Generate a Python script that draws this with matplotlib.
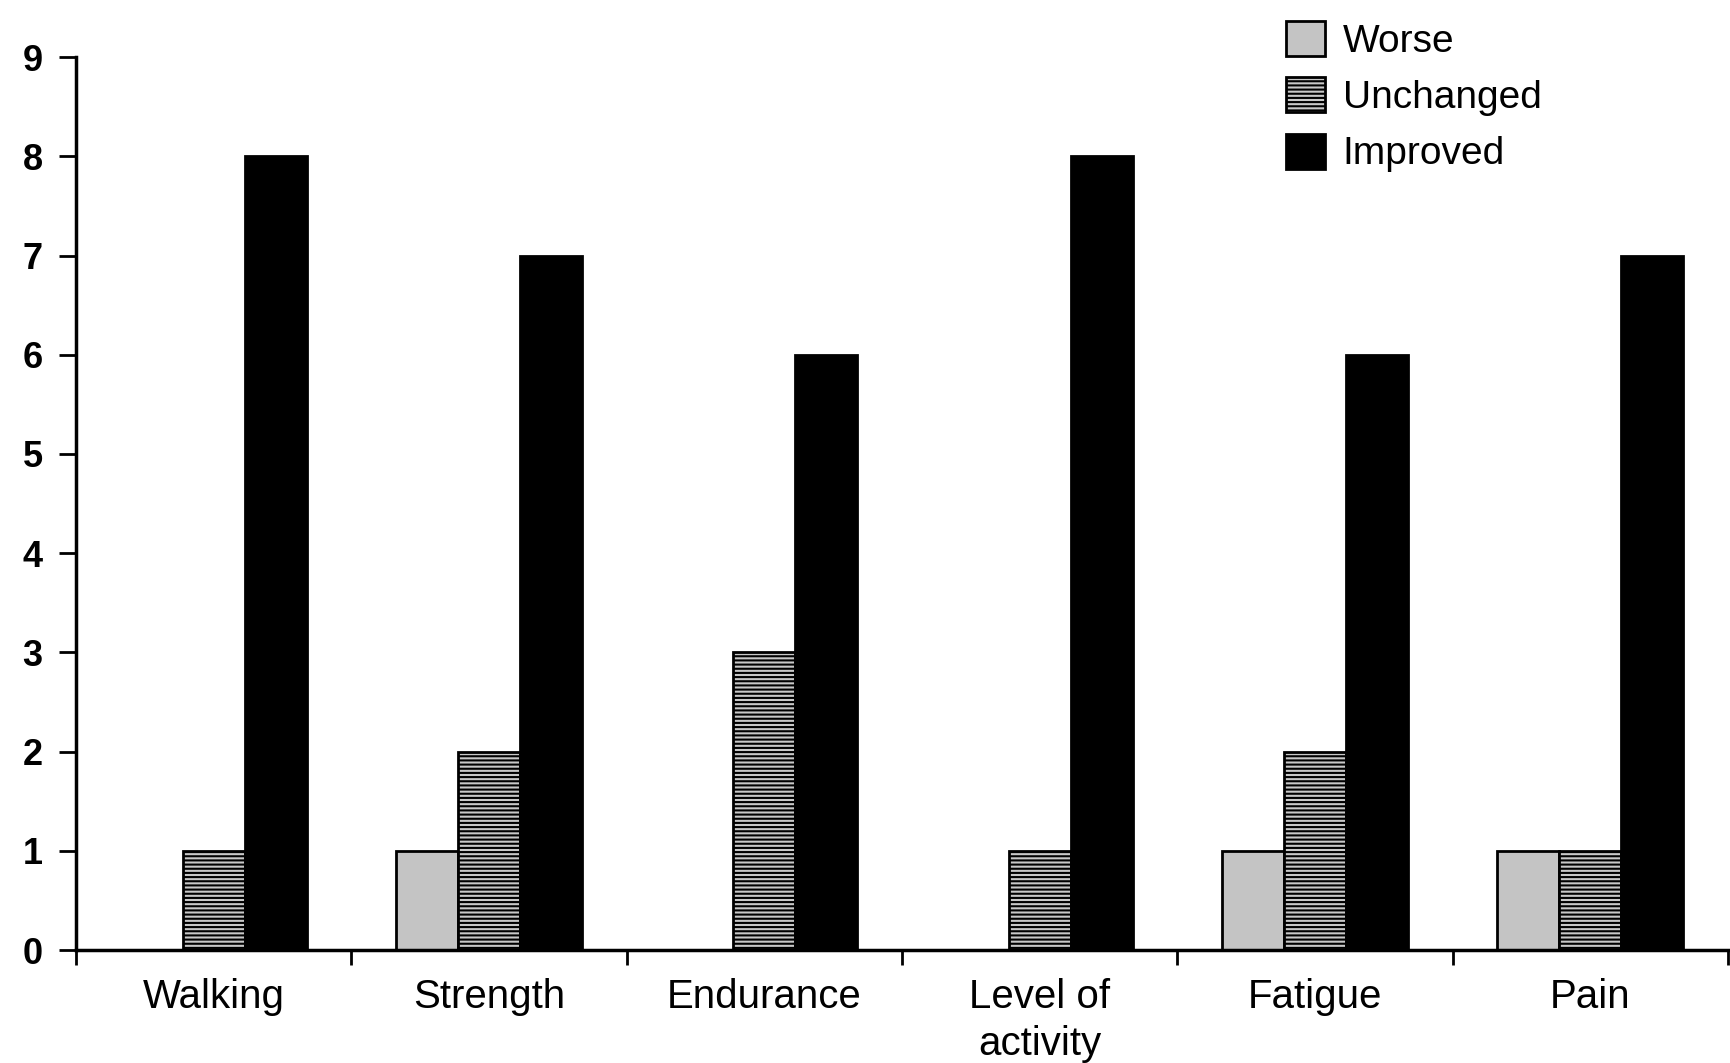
import matplotlib
matplotlib.use("Agg")
import matplotlib.pyplot as plt
import numpy as np

plt.rcParams['font.family'] = ['Liberation Sans', 'DejaVu Sans']
plt.rcParams['hatch.linewidth'] = 1.5

categories = ["Walking", "Strength", "Endurance", "Level of\nactivity", "Fatigue", "Pain"]
worse = [0, 1, 0, 0, 1, 1]
unchanged = [1, 2, 3, 1, 2, 1]
improved = [8, 7, 6, 8, 6, 7]
yticks = list(range(0, 10))

fig = plt.figure(figsize=(17.31, 10.63), dpi=100)
ax = fig.add_axes([0.0439, 0.1063, 0.9543, 0.840])

x = np.arange(len(categories))
w = 0.225
b1 = ax.bar(x - w, worse, w, color="#c4c4c4", edgecolor="black", linewidth=2, label="Worse")
b2 = ax.bar(x, unchanged, w, color="#c8c8c8", edgecolor="black", linewidth=2,
            hatch="----", label="Unchanged")
b3 = ax.bar(x + w, improved, w, color="black", edgecolor="black", linewidth=2, label="Improved")

ax.set_xlim(-0.5, len(categories) - 0.5)
ax.set_ylim(0, 9)
ax.set_yticks(yticks)
ax.set_yticklabels([str(v) for v in yticks], fontsize=26, fontweight="bold")
ax.tick_params(axis="y", direction="out", length=12, width=2, pad=12)

# labels at category centres, tick marks at the boundaries
ax.set_xticks(x)
ax.set_xticklabels(categories, fontsize=29, linespacing=1.3)
ax.tick_params(axis="x", which="major", length=0, pad=20)
ax.set_xticks(np.arange(-0.5, len(categories)), minor=True)
ax.tick_params(axis="x", which="minor", direction="out", length=11, width=2)

for s in ["top", "right"]:
    ax.spines[s].set_visible(False)
ax.spines["left"].set_linewidth(2.5)
ax.spines["bottom"].set_linewidth(2.5)

fig.legend(handles=[b1, b2, b3], loc="upper left", bbox_to_anchor=(0.743, 0.98),
           frameon=False, fontsize=28, borderpad=0, borderaxespad=0,
           handlelength=1.0, handleheight=1.0, handletextpad=0.45, labelspacing=0.45)

fig.savefig("out.png", dpi=100, facecolor="white")
